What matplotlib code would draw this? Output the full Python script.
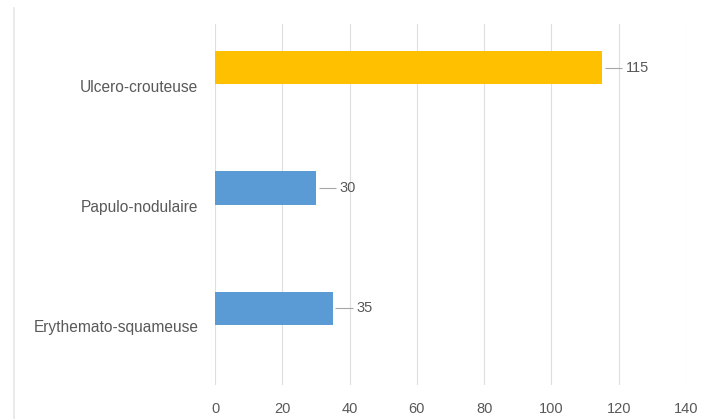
import matplotlib
matplotlib.use("Agg")
import matplotlib.pyplot as plt
from matplotlib.lines import Line2D
from matplotlib.transforms import ScaledTranslation

categories = ["Erythemato-squameuse", "Papulo-nodulaire", "Ulcero-crouteuse"]
values = [35, 30, 115]
bar_colors = ["#5B9BD5", "#5B9BD5", "#FFC000"]
x_ticks = [0, 20, 40, 60, 80, 100, 120, 140]

text_color = "#595959"
grid_color = "#DEDEDE"

plt.rcParams["font.family"] = ["Liberation Sans", "DejaVu Sans"]

fig = plt.figure(figsize=(7.12, 4.19), dpi=100)
ax = fig.add_axes([215 / 712, 0.081, 471 / 712, 0.8617])

bar_h = 0.275
ypos = list(range(len(categories)))
ax.barh(ypos, values, height=bar_h, align="edge", color=bar_colors, zorder=3)

# data labels with short leader lines
for y, v in zip(ypos, values):
    yc = y + bar_h / 2
    ax.plot([v + 0.8, v + 6.0], [yc, yc], color="#A6A6A6", lw=0.8, zorder=3,
            solid_capstyle="butt")
    ax.text(v + 7.0, yc, str(v), va="center", ha="left", fontsize=10.5,
            color=text_color, zorder=4)

ax.set_xlim(0, 140)
ax.set_ylim(-0.5, len(categories) - 0.5)
ax.set_xticks(x_ticks)
ax.set_xticklabels([str(t) for t in x_ticks])
ax.set_yticks(ypos)
ax.set_yticklabels(categories)
ax.tick_params(axis="x", length=0, pad=12, labelsize=10.5, labelcolor=text_color)
ax.tick_params(axis="y", length=0, pad=12, labelsize=11.2, labelcolor=text_color)
shift_down = ScaledTranslation(0, -3 / 100, fig.dpi_scale_trans)
for lbl in ax.get_yticklabels():
    lbl.set_verticalalignment("center")
    lbl.set_transform(lbl.get_transform() + shift_down)

ax.grid(axis="x", color=grid_color, lw=0.8, zorder=0)
ax.grid(axis="y", visible=False)
for s in ax.spines.values():
    s.set_visible(False)

# thin frame edge at the left of the chart area
fig.add_artist(Line2D([14 / 712, 14 / 712], [0, 1 - 8 / 419],
                      transform=fig.transFigure, color="#E6E6E6", lw=1.2))

fig.savefig("out.png", dpi=100, facecolor="white")
